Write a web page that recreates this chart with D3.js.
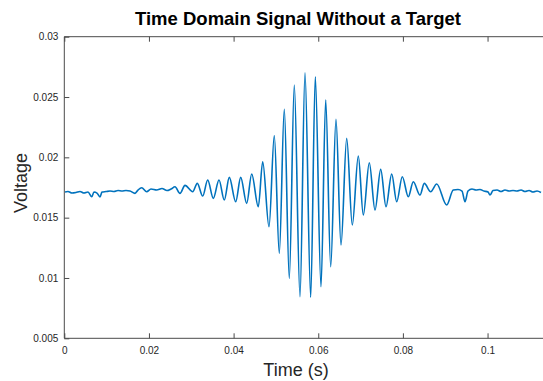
<!DOCTYPE html>
<html>
<head>
<meta charset="utf-8">
<script src="https://cdn.jsdelivr.net/npm/d3@7"></script>
<style>
  html, body { margin: 0; padding: 0; background: #fff; }
  svg { display: block; font-family: "Liberation Sans", Arial, Helvetica, sans-serif; }
</style>
</head>
<body>
<svg id="chart" width="543" height="381"></svg>
<script>
// Sampled signal: time (s) and measured voltage (V)
const timeS = [
  0.000165, 0.000874, 0.001819, 0.002764, 0.003709, 0.004654, 0.005600, 0.006474,
  0.007017, 0.007726, 0.008435, 0.008907, 0.009852, 0.010797, 0.011743, 0.012688,
  0.013633, 0.014578, 0.015523, 0.016704, 0.017413, 0.018287, 0.019468, 0.020484,
  0.021831, 0.023083, 0.024265, 0.025210, 0.026155, 0.027336, 0.028518, 0.030337,
  0.031424, 0.032699, 0.033881, 0.035204, 0.036551, 0.037803, 0.038984, 0.040496,
  0.041677, 0.043095, 0.044276, 0.045836, 0.046875, 0.048364, 0.049616, 0.050797,
  0.051979, 0.053160, 0.054341, 0.055688, 0.056870, 0.058216, 0.059303, 0.060650,
  0.061760, 0.062942, 0.064194, 0.065375, 0.066722, 0.068045, 0.069463, 0.070644,
  0.072061, 0.073408, 0.074755, 0.076007, 0.077354, 0.078535, 0.079858, 0.081276,
  0.082457, 0.084040, 0.085056, 0.086568, 0.087986, 0.090348, 0.091908, 0.093018,
  0.093964, 0.094672, 0.095381, 0.096326, 0.097271, 0.098216, 0.099162, 0.100107,
  0.100580, 0.101289, 0.102234, 0.103179, 0.104124, 0.105069, 0.106014, 0.106960,
  0.107905, 0.108850, 0.109795, 0.110740, 0.111685, 0.112630
];
const voltage = [
  0.017123, 0.017164, 0.017040, 0.017081, 0.017164, 0.017040, 0.017123, 0.016733,
  0.017123, 0.017040, 0.016708, 0.017123, 0.017164, 0.017206, 0.017164, 0.017247,
  0.017206, 0.017247, 0.017206, 0.017015, 0.017289, 0.017479, 0.017148, 0.017372,
  0.017289, 0.017413, 0.017247, 0.017372, 0.017562, 0.017015, 0.017678, 0.017148,
  0.017844, 0.016791, 0.018118, 0.016600, 0.018118, 0.016459, 0.018342, 0.016318,
  0.018342, 0.016186, 0.018615, 0.015904, 0.019635, 0.014245, 0.021808, 0.012040,
  0.023980, 0.009967, 0.025995, 0.008441, 0.027015, 0.008391, 0.026683, 0.009270,
  0.024751, 0.010929, 0.023151, 0.012728, 0.021575, 0.014386, 0.020108, 0.015216,
  0.019552, 0.015630, 0.019005, 0.015904, 0.018615, 0.016318, 0.018391, 0.016733,
  0.017977, 0.016874, 0.017844, 0.017148, 0.017786, 0.016045, 0.017289, 0.017330,
  0.017206, 0.016318, 0.017206, 0.017372, 0.017289, 0.017330, 0.017206, 0.017123,
  0.016874, 0.017247, 0.017289, 0.017164, 0.017289, 0.017206, 0.017247, 0.017206,
  0.017289, 0.017164, 0.017247, 0.017123, 0.017206, 0.017081
];

const xTicks = [0, 0.02, 0.04, 0.06, 0.08, 0.1];
const yTicks = [0.005, 0.01, 0.015, 0.02, 0.025, 0.03];
const xDomain = [0, 0.115];
const yDomain = [0.005, 0.03];

const svg = d3.select("#chart");
const plotLeft = 64.3, plotTop = 36.7, plotBottom = 338.3;
const x = d3.scaleLinear().domain(xDomain).range([plotLeft, plotLeft + 0.115 * 4232.5]);
const y = d3.scaleLinear().domain(yDomain).range([plotBottom, plotTop]);

const axisColor = "#4a4a4a";
const textColor = "#262626";
const tickLen = 5;

// Signal trace
const pts = timeS.map((t, i) => [t, voltage[i]]);
const line = d3.line()
  .x(d => x(d[0]))
  .y(d => y(d[1]))
  .curve(d3.curveMonotoneX);

svg.append("path")
  .datum(pts)
  .attr("d", line)
  .attr("fill", "none")
  .attr("stroke", "#0072BD")
  .attr("stroke-width", 1.6)
  .attr("stroke-linejoin", "round");

// Box axes with inward ticks (bottom/top and left)
const fmt = v => String(v);
const xBottom = d3.axisBottom(x).tickValues(xTicks).tickSize(-tickLen).tickPadding(9).tickFormat(fmt);
const xTop = d3.axisTop(x).tickValues(xTicks).tickSize(-tickLen).tickFormat("");
const yLeft = d3.axisLeft(y).tickValues(yTicks).tickSize(-tickLen).tickPadding(6).tickFormat(fmt);

const gB = svg.append("g").attr("transform", `translate(0,${plotBottom})`).call(xBottom);
const gT = svg.append("g").attr("transform", `translate(0,${plotTop})`).call(xTop);
const gL = svg.append("g").attr("transform", `translate(${plotLeft},0)`).call(yLeft);

[gB, gT, gL].forEach(g => {
  g.select(".domain").attr("stroke", axisColor).attr("stroke-width", 1);
  g.selectAll(".tick line").attr("stroke", axisColor).attr("stroke-width", 1);
  g.selectAll(".tick text").attr("fill", textColor).attr("font-size", 10)
    .attr("font-family", "Liberation Sans, Arial, sans-serif");
});
// straight box edges without end caps
gB.select(".domain").attr("d", `M${plotLeft},0H543`);
gT.select(".domain").attr("d", `M${plotLeft},0H543`);
gL.select(".domain").attr("d", `M0,${plotBottom}V${plotTop}`);

// Title and axis labels
svg.append("text")
  .attr("x", 298).attr("y", 25)
  .attr("text-anchor", "middle")
  .attr("font-size", 18.5).attr("font-weight", "bold")
  .attr("fill", "#000")
  .text("Time Domain Signal Without a Target");

svg.append("text")
  .attr("x", 296).attr("y", 376)
  .attr("text-anchor", "middle")
  .attr("font-size", 18)
  .attr("fill", textColor)
  .text("Time (s)");

svg.append("text")
  .attr("transform", "translate(27,183) rotate(-90)")
  .attr("text-anchor", "middle")
  .attr("font-size", 18)
  .attr("fill", textColor)
  .text("Voltage");
</script>
</body>
</html>
